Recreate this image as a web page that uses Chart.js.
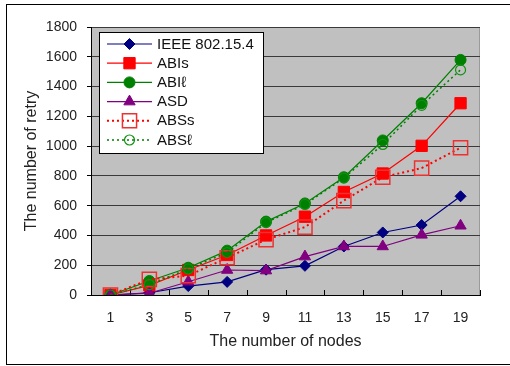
<!DOCTYPE html>
<html>
<head>
<meta charset="utf-8">
<script src="https://cdn.jsdelivr.net/npm/chart.js@4/dist/chart.umd.min.js"></script>
<style>
  html, body { margin: 0; padding: 0; background: #ffffff; }
  canvas { display: block; }
</style>
</head>
<body>
<canvas id="c" width="510" height="366"></canvas>
<script>
// Number of nodes (x categories)
const nodes = ['1', '3', '5', '7', '9', '11', '13', '15', '17', '19'];

// Retry counts per scheme
const ieee = [0, 15, 60, 88, 170, 196, 326, 420, 470, 663];
const abis = [0, 65, 168, 269, 400, 526, 692, 816, 1002, 1288];
const abil = [0, 94, 183, 298, 493, 615, 791, 1038, 1288, 1579];
const asd  = [0, 12, 89, 168, 164, 258, 326, 326, 404, 465];
const abss = [0, 105, 130, 250, 372, 456, 634, 791, 852, 989];
const absl = [0, 70, 175, 285, 486, 608, 785, 1011, 1274, 1512];

// Y axis range
const yMin = 0, yMax = 1800, yStep = 200;

const FONT = '"Liberation Sans", Arial, "DejaVu Sans", sans-serif';

function series(label, data, color, style, radius, opts) {
  return Object.assign({
    label, data,
    borderColor: color,
    backgroundColor: color,
    borderWidth: 1.2,
    pointStyle: style,
    pointRadius: radius,
    pointHoverRadius: radius,
    pointBackgroundColor: color,
    pointBorderColor: color,
    pointBorderWidth: 1,
    tension: 0,
    fill: false
  }, opts || {});
}

const datasets = [
  series('IEEE 802.15.4', ieee, '#000080', 'rectRot', 5.5),
  series('ABIs', abis, '#ff0000', 'rect', 8),
  series('ABI\u2113', abil, '#008000', 'circle', 5.5),
  series('ASD', asd, '#800080', 'triangle', 6.5),
  series('ABSs', abss, '#ff0000', 'rect', 10, {
    borderDash: [2, 3], borderWidth: 2,
    pointBackgroundColor: 'rgba(0,0,0,0)', pointBorderColor: '#ee3030', pointBorderWidth: 1.5
  }),
  series('ABS\u2113', absl, '#008000', 'circle', 5, {
    borderDash: [2, 3], borderWidth: 1.5,
    pointBackgroundColor: 'rgba(0,0,0,0)', pointBorderColor: '#109010', pointBorderWidth: 1.2
  })
];
// later series are painted over earlier ones
datasets.forEach((d, i) => { d.order = datasets.length - i; });

// Marker painter shared by the legend
function paintMarker(ctx, style, x, y, r) {
  ctx.beginPath();
  if (style === 'circle') {
    ctx.arc(x, y, r, 0, Math.PI * 2);
  } else if (style === 'rect') {
    const s = Math.SQRT1_2 * r;
    ctx.rect(x - s, y - s, 2 * s, 2 * s);
  } else if (style === 'rectRot') {
    ctx.moveTo(x - r, y); ctx.lineTo(x, y - r); ctx.lineTo(x + r, y); ctx.lineTo(x, y + r);
  } else if (style === 'triangle') {
    for (let k = 0; k < 3; k++) {
      const a = -Math.PI / 2 + k * 2 * Math.PI / 3;
      const px = x + Math.cos(a) * r, py = y + Math.sin(a) * r;
      if (k === 0) ctx.moveTo(px, py); else ctx.lineTo(px, py);
    }
  }
  ctx.closePath();
}

const frame = {
  id: 'frame',
  beforeDraw(chart) {
    const { ctx, chartArea: a } = chart;
    ctx.save();
    // plot background
    ctx.fillStyle = '#c0c0c0';
    ctx.fillRect(a.left, a.top, a.right - a.left, a.bottom - a.top);
    // plot border (top/right)
    ctx.strokeStyle = '#9a9a9a';
    ctx.lineWidth = 1;
    ctx.strokeRect(a.left + 0.5, a.top + 0.5, a.right - a.left - 1, a.bottom - a.top);
    // outer border
    ctx.strokeStyle = '#000';
    ctx.strokeRect(6.5, 4.5, 520, 360);
    ctx.restore();
  },
  beforeDatasetsDraw(chart) {
    // x tick marks pointing into the plot, at category boundaries
    const { ctx } = chart;
    const xs = chart.scales.x;
    const n = chart.data.labels.length;
    ctx.save();
    ctx.strokeStyle = '#000';
    ctx.lineWidth = 1;
    ctx.beginPath();
    for (let i = 1; i <= n; i++) {
      const px = Math.round(xs.left + (xs.right - xs.left) * i / n) + 0.5;
      ctx.moveTo(px, xs.top);
      ctx.lineTo(px, xs.top - 5);
    }
    ctx.stroke();
    ctx.restore();
  },
  afterDraw(chart) {
    // legend box with line + marker samples
    const { ctx } = chart;
    const bx = 99.5, by = 32.5, bw = 164, bh = 121;
    ctx.save();
    ctx.fillStyle = '#fff';
    ctx.fillRect(bx, by, bw, bh);
    ctx.strokeStyle = '#000';
    ctx.lineWidth = 1;
    ctx.strokeRect(bx, by, bw, bh);
    chart.data.datasets.forEach((d, i) => {
      const cy = 44 + i * 19.2;
      ctx.save();
      ctx.strokeStyle = d.borderColor;
      ctx.lineWidth = d.borderWidth;
      ctx.setLineDash(d.borderDash || []);
      ctx.beginPath();
      ctx.moveTo(107, cy);
      ctx.lineTo(152, cy);
      ctx.stroke();
      ctx.setLineDash([]);
      paintMarker(ctx, d.pointStyle, 129.5, cy, d.pointRadius);
      ctx.fillStyle = d.pointBackgroundColor;
      ctx.fill();
      ctx.strokeStyle = d.pointBorderColor;
      ctx.lineWidth = d.pointBorderWidth;
      ctx.stroke();
      ctx.restore();
      ctx.fillStyle = '#111';
      ctx.font = '15px ' + FONT;
      ctx.textBaseline = 'middle';
      ctx.textAlign = 'left';
      ctx.fillText(d.label, 157, cy + 0.5);
    });
    ctx.restore();
  }
};

new Chart(document.getElementById('c'), {
  type: 'line',
  data: { labels: nodes, datasets },
  options: {
    responsive: false,
    devicePixelRatio: 1,
    animation: false,
    events: [],
    layout: { padding: { left: 10, right: 30, top: 27, bottom: 10 } },
    plugins: { legend: { display: false }, tooltip: { enabled: false } },
    scales: {
      x: {
        offset: true,
        afterFit: s => { s.height = 61; },
        grid: { display: true, drawOnChartArea: false, drawTicks: false, color: '#000' },
        border: { display: true, color: '#000', width: 1 },
        ticks: { padding: 15, color: '#222', font: { family: FONT, size: 14 } },
        title: {
          display: true, text: 'The number of nodes', color: '#222',
          font: { family: FONT, size: 16 }, padding: { top: 6, bottom: 5 }
        }
      },
      y: {
        min: yMin, max: yMax,
        afterFit: s => { s.width = 81; },
        grid: { color: '#3a3a3a', lineWidth: 1, tickLength: 4, tickColor: '#000' },
        border: { display: true, color: '#000', width: 1 },
        ticks: {
          stepSize: yStep, padding: 10, color: '#222',
          font: { family: FONT, size: 14 },
          callback: v => String(v)
        },
        title: {
          display: true, text: 'The number of retry', color: '#222',
          font: { family: FONT, size: 16 }, padding: { top: 12, bottom: 6 }
        }
      }
    }
  },
  plugins: [frame]
});
</script>
</body>
</html>
